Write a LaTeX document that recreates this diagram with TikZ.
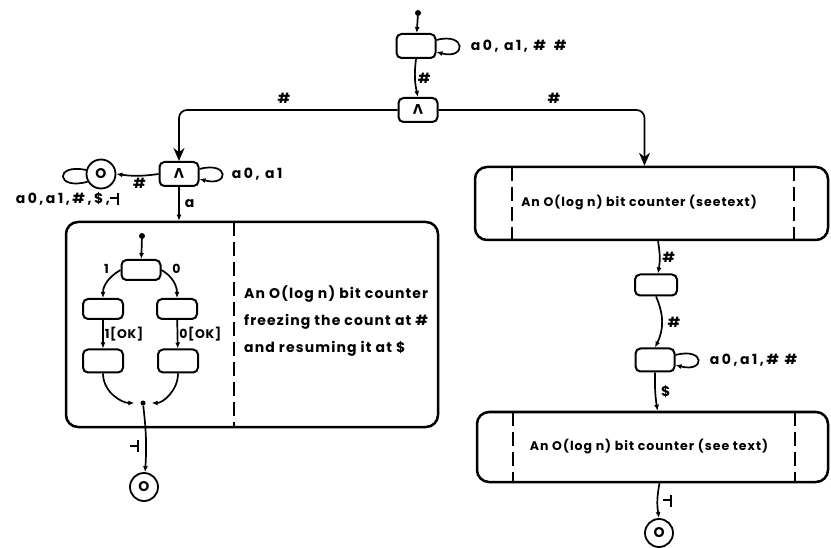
\documentclass[tikz,border=0pt]{standalone}
\usepackage{fontspec}
\setmainfont{Poppins}
\newfontfamily\lblfont{Poppins}[LetterSpace=18]
\newfontfamily\txtfont{Poppins}[LetterSpace=8]
\newfontfamily\innerfont{Poppins}[LetterSpace=5]
\usetikzlibrary{arrows.meta, positioning, calc}
\newcommand{\andsym}{\raisebox{0.72em}{\scalebox{1}[-1]{V}}}
\newcommand{\termsym}{\rule[4.5pt]{7pt}{1.8pt}\rule[-1pt]{2pt}{12pt}}
\tikzset{
  state/.style={rectangle, draw, rounded corners=5pt, line width=2pt,
    minimum width=39pt, minimum height=24pt, inner sep=0pt},
  andstate/.style={state, font=\innerfont\bfseries\fontsize{14}{14}\selectfont},
  bigbox/.style={rectangle, draw, rounded corners=12pt, line width=2.5pt,
    inner sep=0pt},
  final/.style={circle, draw, line width=1.8pt, minimum size=29pt,
    inner sep=0pt, font=\innerfont\bfseries\fontsize{14}{14}\selectfont},
  startdot/.style={circle, fill, minimum size=6pt, inner sep=0pt},
  edge/.style={line width=1.7pt},
  arrow/.style={edge, -{Latex[length=6pt,width=5pt]}},
  bigarrow/.style={edge, -{Stealth[length=13pt,width=11pt]}},
  lbl/.style={font=\lblfont\bfseries\fontsize{14}{16}\selectfont, inner sep=2pt},
  inlbl/.style={font=\innerfont\bfseries\fontsize{12.5}{14}\selectfont, inner sep=2pt},
  txt/.style={font=\txtfont\bfseries\fontsize{14}{27}\selectfont, inner sep=0pt},
  smalltxt/.style={font=\txtfont\bfseries\fontsize{12.5}{14}\selectfont, inner sep=0pt},
  divider/.style={line width=2pt, dash pattern=on 14pt off 6pt}
}
\begin{document}
\begin{tikzpicture}[x=1pt, y=1pt]
  \useasboundingbox (0,0) rectangle (831,-548);
  % top level
  \node[startdot] (init) at (418,-13) {};
  \node[state] (wait) at (416,-46) {};
  \node[andstate] (andtop) at (418,-110) {\andsym};
  \draw[arrow] (init) -- (wait);
  \draw[arrow] ([yshift=6pt]wait.east) .. controls +(30,8) and +(30,-8) ..
    ([yshift=-6pt]wait.east) node[lbl, pos=0.5, right=9pt] {a0, a1, \# \,\#};
  \draw[arrow] (wait.south) to[bend right=10] node[lbl, right] {\#} (andtop.north);

  % left branch
  \node[andstate] (andleft) at (179,-174) {\andsym};
  \node[final] (deadL) at (101,-174) {O};
  \node[lbl, anchor=east] (deadLlbl) at (121,-199) {a0,a1,\#,\$,\termsym};
  \draw[bigarrow, rounded corners=8pt] (andtop.west) -|
    node[lbl, pos=0.26, above=4pt] {\#} (andleft.north);
  \draw[arrow] ([yshift=5pt]andleft.east) .. controls +(30,8) and +(30,-8) ..
    ([yshift=-5pt]andleft.east) node[lbl, pos=0.5, right=7pt] {a0, a1};
  \draw[arrow] (andleft.west) to[bend left=8] node[lbl, below, pos=0.45] {\#} (deadL.east);
  \draw[edge] (deadL.165) .. controls +(-32,7) and +(-32,-9) .. (deadL.210);

  % counter that freezes at #
  \node[bigbox, minimum width=372pt, minimum height=205pt] (freeze) at (252,-324.5) {};
  \draw[divider] (234,-222) -- (234,-427);
  \node[txt, align=left, anchor=west] (freezetxt) at (244,-321)
    {An O(log n) bit counter\\freezing the count at \#\\and resuming it at \$};
  \draw[arrow] (andleft.south) -- node[lbl, right=3pt] {a} (andleft.south |- freeze.north);
  \node[startdot] (init2) at (142,-236) {};
  \node[state, minimum height=20pt] (b0) at (141,-270) {};
  \node[state, minimum width=40pt, minimum height=20pt] (b1) at (103,-309) {};
  \node[state, minimum width=40pt, minimum height=20pt] (b2) at (177,-309) {};
  \node[state, minimum width=40pt, minimum height=23pt] (b3) at (103,-361) {};
  \node[state, minimum width=40pt, minimum height=23pt] (b4) at (178,-361) {};
  \node[startdot, minimum size=5pt] (join) at (143,-403) {};
  \node[final, minimum size=28pt] (deadF) at (144,-487) {O};
  \draw[arrow] (init2) -- (b0);
  \draw[arrow] (b0.west) to[out=210, in=90] node[inlbl, pos=0.3, above left] {1} (b1.north);
  \draw[arrow] (b0.east) to[out=-30, in=90] node[inlbl, pos=0.3, above right] {0} (b2.north);
  \draw[arrow] (b1) -- node[inlbl, right, inner sep=1pt] {1[OK]} (b3);
  \draw[arrow] (b2) -- node[inlbl, right, inner sep=1pt] {0[OK]} (b4);
  \draw[arrow, shorten >=6pt] (b3.south) to[out=-90, in=180] (join);
  \draw[arrow, shorten >=6pt] (b4.south) to[out=-90, in=0] (join);
  \draw[arrow] (join) to[bend left=5] node[lbl, left=4pt, pos=0.62] {\termsym} (deadF);

  % right branch
  \node[bigbox, minimum width=353pt, minimum height=73pt] (cntA) at (651.5,-203.5) {};
  \draw[divider] (512,-167) -- (512,-240);
  \draw[divider] (794,-167) -- (794,-240);
  \node[smalltxt] (cntAtxt) at (639,-203) {An O(log n) bit counter (seetext)};
  \draw[bigarrow, rounded corners=8pt] (andtop.east) -|
    node[lbl, pos=0.28, above=4pt] {\#} ([xshift=-7pt]cntA.north);
  \node[state, minimum width=42pt, minimum height=21pt] (hold) at (656,-285) {};
  \node[state, minimum height=23pt] (resume) at (655,-360) {};
  \draw[arrow] ([xshift=6.5pt]cntA.south) to[bend left=10] node[lbl, right] {\#} ([xshift=2pt]hold.north);
  \draw[arrow] (hold.south) to[bend left=25] node[lbl, right=3pt] {\#} (resume.north);
  \draw[arrow] ([yshift=5pt]resume.east) .. controls +(30,8) and +(30,-8) ..
    ([yshift=-5pt]resume.east) node[lbl, pos=0.5, right=9pt] {a0,a1,\# \#};
  \node[bigbox, minimum width=351pt, minimum height=70pt] (cntB) at (652.5,-447) {};
  \draw[divider] (513,-412) -- (513,-482);
  \draw[divider] (795,-412) -- (795,-482);
  \node[smalltxt] (cntBtxt) at (649,-447) {An O(log n) bit counter (see text)};
  \draw[arrow] (resume.south) to[bend right=5] node[lbl, right=3pt] {\$} ([xshift=5pt]cntB.north);
  \node[final, minimum size=28pt] (deadR) at (659,-533) {O};
  \draw[arrow] ([xshift=7pt]cntB.south) to[bend right=10] node[lbl, right=3pt] {\termsym} (deadR.north);
\end{tikzpicture}
\end{document}
